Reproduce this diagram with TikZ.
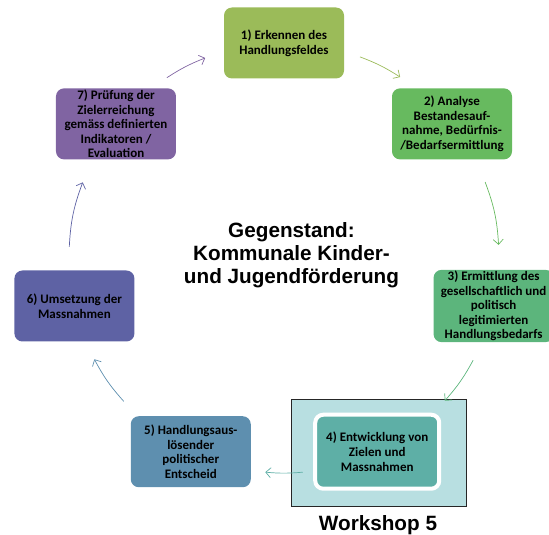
\documentclass[tikz,border=0pt]{standalone}
\usepackage{fontspec}
\setmainfont{Carlito}
\newfontfamily\arialfont{Liberation Sans}
\usetikzlibrary{arrows.meta}

\definecolor{stepA}{HTML}{9BBB59}
\definecolor{stepB}{HTML}{67BA5F}
\definecolor{stepC}{HTML}{5CB57C}
\definecolor{stepD}{HTML}{5EAFA6}
\definecolor{stepE}{HTML}{5E8FAF}
\definecolor{stepF}{HTML}{5E62A4}
\definecolor{stepG}{HTML}{8064A2}
\definecolor{frame}{HTML}{B8DFE1}

\tikzset{
    stepbox/.style={rounded corners=8pt, minimum width=120pt, minimum height=71pt, inner sep=1pt, align=center, text=black, font=\bfseries\fontsize{13}{14.6}\selectfont},
    flow/.style={-{Straight Barb[length=5pt,width=10pt]}, line width=0.7pt},
    title/.style={font=\arialfont\bfseries\fontsize{20.7}{23}\selectfont, align=center, inner sep=0pt},
}

\begin{document}
\begin{tikzpicture}[x=1pt,y=-1pt]
    \useasboundingbox (0,0) rectangle (549,535);
    \coordinate (ctr) at (284,258);

    % workshop frame
    \node[draw=black!85, line width=0.8pt, fill=frame, minimum width=175pt, minimum height=107pt] (ws) at (378.5,452.5) {};
    \node[title, anchor=base] (wslabel) at (378,530) {Workshop 5};

    \node[title] (topic) at (291.5,255.5) {Gegenstand:\\Kommunale Kinder-\\und Jugendförderung};

    \node[stepbox, fill=stepA] (s1) at ([shift={(270:215)}]ctr) {1) Erkennen des\\Handlungsfeldes};
    \node[stepbox, fill=stepB] (s2) at ([shift={(321.4:215)}]ctr) {2) Analyse\\Bestandesauf-\\nahme, Bedürfnis-\\/Bedarfsermittlung};
    \node[stepbox, fill=stepC] (s3) at ([shift={(12.9:215)}]ctr) {3) Ermittlung des\\gesellschaftlich und\\politisch\\legitimierten\\Handlungsbedarfs};
    \node[stepbox, fill=stepD, draw=white, line width=4pt, minimum width=124pt, minimum height=74pt] (s4) at ([shift={(64.3:215)}]ctr) {4) Entwicklung von\\Zielen und\\Massnahmen};
    \node[stepbox, fill=stepE] (s5) at ([shift={(115.7:215)}]ctr) {5) Handlungsaus-\\lösender\\politischer\\Entscheid};
    \node[stepbox, fill=stepF] (s6) at ([shift={(167.1:215)}]ctr) {6) Umsetzung der\\Massnahmen};
    \node[stepbox, fill=stepG] (s7) at ([shift={(218.6:215)}]ctr) {7) Prüfung der\\Zielerreichung\\gemäss definierten\\Indikatoren /\\Evaluation};

    % arrow ends on the circle
    \coordinate (a12) at ([shift={(290.7:215)}]ctr);
    \coordinate (b12) at ([shift={(302.7:215)}]ctr);
    \coordinate (a23) at ([shift={(339.3:215)}]ctr);
    \coordinate (b23) at ([shift={(356.5:215)}]ctr);
    \coordinate (a34) at ([shift={(28.4:215)}]ctr);
    \coordinate (b34) at ([shift={(41.6:215)}]ctr);
    \coordinate (a45) at ([shift={(85:215)}]ctr);
    \coordinate (b45) at ([shift={(95:215)}]ctr);
    \coordinate (a56) at ([shift={(138.2:215)}]ctr);
    \coordinate (b56) at ([shift={(151.9:215)}]ctr);
    \coordinate (a67) at ([shift={(183:215)}]ctr);
    \coordinate (b67) at ([shift={(200.6:215)}]ctr);
    \coordinate (a71) at ([shift={(237:215)}]ctr);
    \coordinate (b71) at ([shift={(248.5:215)}]ctr);

    \draw[flow, stepA] (a12) to[bend left=6] (b12);
    \draw[flow, stepB] (a23) to[bend left=8.6] (b23);
    \draw[flow, stepC] (a34) to[bend left=6.6] (b34);
    \draw[flow, stepD] (a45) to[bend left=5] (b45);
    \draw[flow, stepE] (a56) to[bend left=6.9] (b56);
    \draw[flow, stepF] (a67) to[bend left=8.8] (b67);
    \draw[flow, stepG] (a71) to[bend left=5.7] (b71);
\end{tikzpicture}
\end{document}
